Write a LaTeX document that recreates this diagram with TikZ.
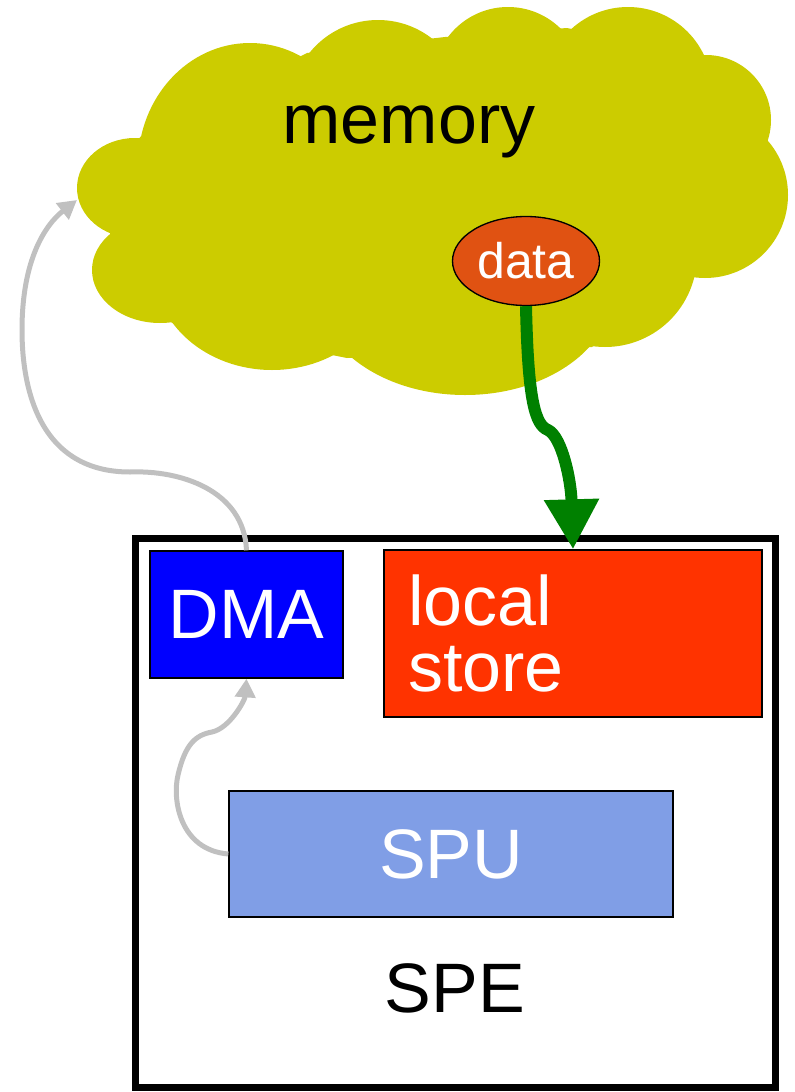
\documentclass[tikz,border=0pt]{standalone}
\usepackage{fontspec}
\setmainfont{Liberation Sans}
\usetikzlibrary{shapes.geometric,arrows.meta}
\definecolor{cloudcol}{RGB}{204,204,0}
\definecolor{datacol}{RGB}{224,82,18}
\definecolor{storecol}{RGB}{255,51,0}
\definecolor{spucol}{RGB}{128,158,230}
\definecolor{linkgray}{RGB}{192,192,192}
\definecolor{movegreen}{RGB}{0,128,0}
\newcommand{\bigfont}{\fontsize{52.5}{49.5}\selectfont}
\tikzset{
  unitbox/.style={draw=black, line width=1pt, text=white, inner sep=0pt, font=\bigfont},
  graylink/.style={draw=linkgray, line width=3.75pt, -{Triangle[length=14pt,width=15pt]}},
}

\begin{document}
\begin{tikzpicture}[x=0.75pt,y=-0.75pt]
    \useasboundingbox (0,0) rectangle (795,1092);

    \fill[cloudcol] (140,137) -- (307,53) -- (445,37) -- (567,28) -- (707,57) -- (765,145)
        -- (692,275) -- (592,347) -- (347,358) -- (172,323) -- (110,234) -- cycle;
    \fill[cloudcol] (250,165) ellipse [x radius=112, y radius=122]
        (378,108) circle [radius=88]
        (508,82) circle [radius=75]
        (628,91) circle [radius=84]
        (706,120) circle [radius=65]
        (705,195) circle [radius=83]
        (605,255) circle [radius=92]
        (465,290) ellipse [x radius=148, y radius=105]
        (272,268) ellipse [x radius=118, y radius=102]
        (160,270) ellipse [x radius=68, y radius=53]
        (135,188) ellipse [x radius=58, y radius=50];

    \node[font=\bigfont, anchor=base] (mem) at (409,143) {memory};
    \node[ellipse, draw=black, line width=1pt, fill=datacol, text=white, inner sep=0pt,
        minimum width=110.25pt, minimum height=66.75pt,
        font=\fontsize{37.5}{40}\selectfont] (data) at (526,261) {data};
    \coordinate (cloudleft) at (77,200);

    \draw[line width=5.25pt] (135,538) rectangle (775,1087);

    \node[unitbox, fill=blue, minimum width=144.75pt, minimum height=95.25pt] (dma) at (246.5,614.5) {DMA};
    \node[unitbox, fill=storecol, minimum width=283.5pt, minimum height=125.25pt,
        text width=247.5pt, inner xsep=18pt, align=left] (store) at (573,633.5) {local\\store};
    \node[unitbox, fill=spucol, minimum width=333pt, minimum height=94.5pt] (spu) at (451,854) {SPU};
    \node[font=\bigfont] (spe) at (455,988) {SPE};

    \draw[graylink] (dma.north) .. controls (244,490) and (180,470) .. (130,472)
        .. controls (40,472) and (22,390) .. (22,330)
        .. controls (22,260) and (45,225) .. (cloudleft);
    \draw[graylink] (spu.west) .. controls (180,850) and (172,800) .. (178,775)
        .. controls (185,745) and (195,735) .. (212,732)
        .. controls (230,728) and (245,700) .. (dma.south);
    \draw[movegreen, line width=9pt, -{Triangle[length=37.5pt,width=39pt]}] (data.south)
        .. controls (528,400) and (535,425) .. (548,430)
        .. controls (562,437) and (571,480) .. (store.north);
\end{tikzpicture}
\end{document}
